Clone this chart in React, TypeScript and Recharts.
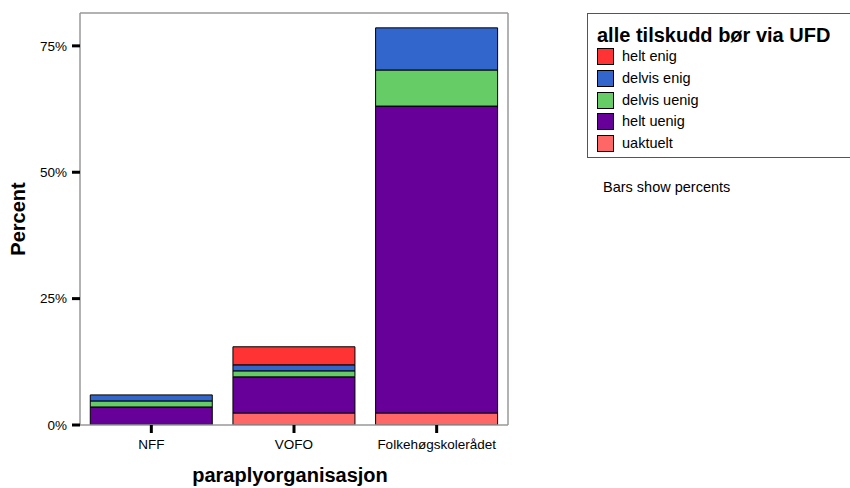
import React from 'react';
import { BarChart, Bar, XAxis, YAxis, Legend, Label } from 'recharts';

const categories = ['NFF', 'VOFO', 'Folkehøgskolerådet'];

// percent of all respondents, bottom segment first
const uaktuelt = [0, 2.38, 2.38];
const heltUenig = [3.57, 7.14, 60.71];
const delvisUenig = [1.19, 1.19, 7.14];
const delvisEnig = [1.19, 1.19, 8.33];
const heltEnig = [0, 3.57, 0];

const yTicks = [0, 25, 50, 75];

const series = [
  { key: 'uaktuelt', label: 'uaktuelt', values: uaktuelt, color: '#ff6666' },
  { key: 'heltUenig', label: 'helt uenig', values: heltUenig, color: '#660099' },
  { key: 'delvisUenig', label: 'delvis uenig', values: delvisUenig, color: '#66cc66' },
  { key: 'delvisEnig', label: 'delvis enig', values: delvisEnig, color: '#3366cc' },
  { key: 'heltEnig', label: 'helt enig', values: heltEnig, color: '#ff3333' },
];

const data = categories.map((name, i) => {
  const row: { [k: string]: string | number } = { name };
  series.forEach(s => { row[s.key] = s.values[i]; });
  return row;
});

const FONT = '"Liberation Sans", Arial, Helvetica, sans-serif';
const FRAME = '#999999';

const renderLegend = () => (
  <div style={{ fontFamily: FONT, color: '#000' }}>
    <div
      style={{
        border: '1px solid #555',
        borderRight: 'none',
        width: 300,
        height: 145,
        padding: '10px 0 0 9px',
        boxSizing: 'border-box',
        background: '#fff',
      }}
    >
      <div style={{ fontSize: 20, fontWeight: 'bold', lineHeight: '22px', whiteSpace: 'nowrap' }}>
        alle tilskudd bør via UFD
      </div>
      {[...series].reverse().map(s => (
        <div key={s.key} style={{ display: 'flex', alignItems: 'center', height: 21.7 }}>
          <span
            style={{
              display: 'inline-block',
              width: 17,
              height: 17,
              boxSizing: 'border-box',
              border: '1px solid #000',
              background: s.color,
              marginRight: 8,
            }}
          />
          <span style={{ fontSize: 14.5, lineHeight: '17px' }}>{s.label}</span>
        </div>
      ))}
    </div>
    <div style={{ marginTop: 21, marginLeft: 16, fontSize: 14.5, lineHeight: '17px' }}>
      Bars show percents
    </div>
  </div>
);

export default function App() {
  return (
    <div
      style={{
        position: 'absolute',
        left: 0,
        top: 0,
        width: 850,
        height: 488,
        overflow: 'hidden',
        background: '#fff',
      }}
    >
      <BarChart
        width={850}
        height={488}
        data={data}
        margin={{ top: 12, right: 341, bottom: 0, left: 0 }}
        barCategoryGap="7.2%"
      >
        <XAxis
          dataKey="name"
          height={63}
          tickSize={8}
          tickMargin={6}
          tick={{ fill: '#000', fontSize: 13.5, fontFamily: FONT }}
          tickLine={{ stroke: '#000', strokeWidth: 3 }}
          axisLine={{ stroke: FRAME, strokeWidth: 1.5 }}
        >
          <Label
            value="paraplyorganisasjon"
            position="insideBottom"
            offset={6}
            dx={-4}
            style={{ fontSize: 20, fontWeight: 'bold', fontFamily: FONT, fill: '#000' }}
          />
        </XAxis>
        <XAxis
          xAxisId="top"
          dataKey="name"
          orientation="top"
          height={1}
          tick={false}
          tickLine={false}
          axisLine={{ stroke: FRAME, strokeWidth: 1.5 }}
        />
        <YAxis
          width={80}
          domain={[0, 81.5]}
          ticks={yTicks}
          tickFormatter={(v: number) => `${v}%`}
          tickSize={8}
          tickMargin={5}
          tick={{ fill: '#000', fontSize: 13.5, fontFamily: FONT }}
          tickLine={{ stroke: '#000', strokeWidth: 3 }}
          axisLine={{ stroke: FRAME, strokeWidth: 1.5 }}
          allowDataOverflow
        >
          <Label
            value="Percent"
            angle={-90}
            position="insideLeft"
            offset={18}
            style={{ textAnchor: 'middle', fontSize: 20, fontWeight: 'bold', fontFamily: FONT, fill: '#000' }}
          />
        </YAxis>
        <YAxis
          yAxisId="right"
          orientation="right"
          width={1}
          domain={[0, 81.5]}
          tick={false}
          tickLine={false}
          axisLine={{ stroke: FRAME, strokeWidth: 1.5 }}
        />
        <Legend
          layout="horizontal"
          verticalAlign="middle"
          align="center"
          content={renderLegend}
          wrapperStyle={{ left: 587, top: 13, width: 300, height: 200 }}
        />
        {series.map(s => (
          <Bar
            key={s.key}
            dataKey={s.key}
            name={s.label}
            stackId="a"
            fill={s.color}
            stroke="#000"
            strokeWidth={1}
            isAnimationActive={false}
          />
        ))}
      </BarChart>
    </div>
  );
}
